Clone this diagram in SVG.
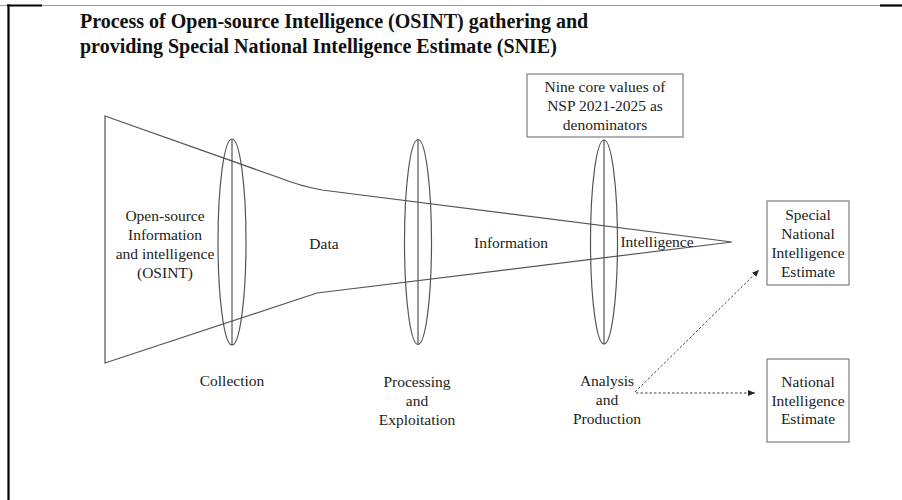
<svg xmlns="http://www.w3.org/2000/svg" width="902" height="500" viewBox="0 0 902 500" font-family="'Liberation Serif', 'Times New Roman', serif">
<defs>
<style>
text{font-family:"Liberation Serif","Times New Roman",serif;fill:#222;font-size:15.5px;text-anchor:middle}
.title{font-size:20px;font-weight:bold;text-anchor:start;fill:#111}
.funnel{fill:none;stroke:#555;stroke-width:1.2}
.lens{fill:none;stroke:#555;stroke-width:1.2}
.box{fill:#fff;stroke:#888;stroke-width:1.3}
.dash{fill:none;stroke:#444;stroke-width:1;stroke-dasharray:2.5,2}
</style>
<marker id="ah" markerWidth="8" markerHeight="8" refX="7" refY="4" orient="auto" markerUnits="userSpaceOnUse">
<path d="M0,1 L7,4 L0,7 Z" fill="#222"/>
</marker>
</defs>
<rect width="902" height="500" fill="#fff"/>
<g id="frame">
<line x1="0" y1="5.5" x2="902" y2="5.5" stroke="#999" stroke-width="1"/>
<line x1="7" y1="5.5" x2="42" y2="5.5" stroke="#000" stroke-width="2.2"/>
<line x1="880" y1="5.5" x2="902" y2="5.5" stroke="#000" stroke-width="2.2"/>
<line x1="8.5" y1="4.5" x2="8.5" y2="500" stroke="#000" stroke-width="2.2"/>
</g>
<g id="title">
<text class="title" x="80" y="28">Process of Open-source Intelligence (OSINT) gathering and</text>
<text class="title" x="80" y="53">providing Special National Intelligence Estimate (SNIE)</text>
</g>
<g id="funnel">
<path class="funnel" d="M105,116 L280,178 Q300,186 322,190 L732,242 L317,293 L105,363 Z"/>
</g>
<g id="lens-collection">
<ellipse class="lens" cx="232" cy="242" rx="14" ry="103"/>
<line class="lens" x1="232" y1="139" x2="232" y2="345"/>
</g>
<g id="lens-processing">
<ellipse class="lens" cx="418" cy="242" rx="13.5" ry="102.5"/>
<line class="lens" x1="418" y1="139.5" x2="418" y2="344.5"/>
</g>
<g id="lens-analysis">
<ellipse class="lens" cx="604" cy="242" rx="13.5" ry="102"/>
<line class="lens" x1="604" y1="140" x2="604" y2="344"/>
</g>
<g id="osint">
<text x="165" y="221">Open-source</text>
<text x="165" y="240">Information</text>
<text x="165" y="259">and intelligence</text>
<text x="165" y="278">(OSINT)</text>
</g>
<g id="data"><text x="324" y="249">Data</text></g>
<g id="information"><text x="511" y="248">Information</text></g>
<g id="intelligence"><text x="657" y="247">Intelligence</text></g>
<g id="collection"><text x="232" y="386">Collection</text></g>
<g id="processing">
<text x="417" y="387">Processing</text>
<text x="417" y="406">and</text>
<text x="417" y="425">Exploitation</text>
</g>
<g id="analysis">
<text x="607" y="386">Analysis</text>
<text x="607" y="405">and</text>
<text x="607" y="424">Production</text>
</g>
<g id="core-values">
<rect class="box" x="527" y="74" width="156" height="63"/>
<text x="605" y="92">Nine core values of</text>
<text x="605" y="111">NSP 2021-2025 as</text>
<text x="605" y="130">denominators</text>
</g>
<g id="snie">
<rect class="box" x="767" y="201" width="82" height="84"/>
<text x="808" y="220">Special</text>
<text x="808" y="239">National</text>
<text x="808" y="258">Intelligence</text>
<text x="808" y="277">Estimate</text>
</g>
<g id="nie">
<rect class="box" x="767" y="359" width="82" height="83"/>
<text x="808" y="387">National</text>
<text x="808" y="406">Intelligence</text>
<text x="808" y="424">Estimate</text>
</g>
<g id="connectors">
<line class="dash" x1="635" y1="392" x2="759" y2="270" marker-end="url(#ah)"/>
<line class="dash" x1="636" y1="393" x2="755" y2="393" marker-end="url(#ah)"/>
</g>
</svg>
